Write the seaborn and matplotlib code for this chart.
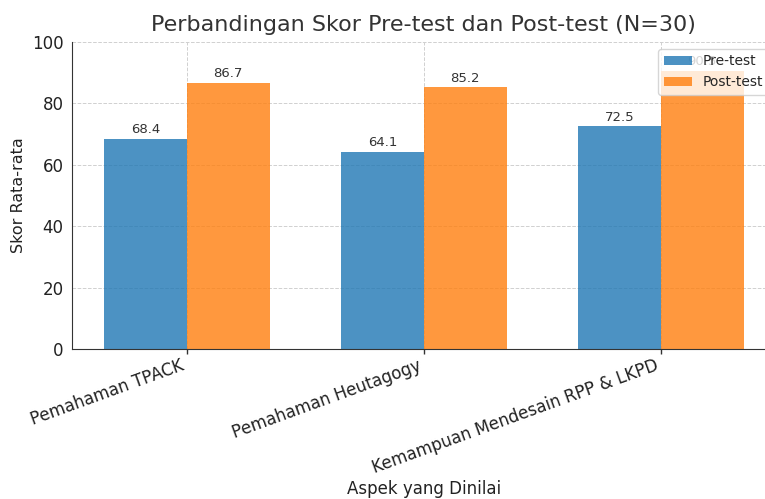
import matplotlib
matplotlib.use("Agg")
import matplotlib.pyplot as plt
import seaborn as sns
import pandas as pd

categories = ["Pemahaman TPACK", "Pemahaman Heutagogy", "Kemampuan Mendesain RPP & LKPD"]
pre_test = [68.4, 64.1, 72.5]
post_test = [86.7, 85.2, 90.5]
series_names = ["Pre-test", "Post-test"]

df = pd.DataFrame({
    "Aspek": categories * 2,
    "Skor": pre_test + post_test,
    "Tes": [series_names[0]] * 3 + [series_names[1]] * 3,
})

sns.set_style("whitegrid", {
    "grid.linestyle": "--",
    "grid.color": "#d0d0d0",
    "axes.edgecolor": "#333333",
})
plt.rcParams["font.family"] = ["DejaVu Sans"]

fig = plt.figure(figsize=(7.65, 4.99), dpi=100)
ax = fig.add_axes([0.094, 0.3006, 0.920, 0.6154])

sns.barplot(data=df, x="Aspek", y="Skor", hue="Tes", hue_order=series_names,
            palette=["#1f77b4", "#ff7f0e"], alpha=0.8, width=0.7,
            saturation=1, ax=ax, errorbar=None, linewidth=0, edgecolor="none")

for c in ax.containers:
    ax.bar_label(c, fmt="%.1f", padding=2, fontsize=9.5, color="#333333")

ax.set_xlim(-0.485, 2.485)
ax.set_ylim(0, 100)
ax.set_yticks([0, 20, 40, 60, 80, 100])
ax.grid(True, linestyle="--", color="#d0d0d0", linewidth=0.7)
ax.set_axisbelow(True)
for s in ["top", "right"]:
    ax.spines[s].set_visible(False)
ax.spines["left"].set_color("#333333")
ax.spines["bottom"].set_color("#333333")

ax.set_title("Perbandingan Skor Pre-test dan Post-test (N=30)", fontsize=16, color="#333333", pad=8)
ax.set_xlabel("Aspek yang Dinilai", fontsize=12, color="#222222", labelpad=2)
ax.set_ylabel("Skor Rata-rata", fontsize=11.5, color="#222222")
ax.tick_params(axis="y", labelsize=12, colors="#222222", length=0, pad=6)
ax.tick_params(axis="x", labelsize=12, colors="#222222", length=3.5, width=1,
               color="#333333", direction="out", bottom=True, pad=2)
plt.setp(ax.get_xticklabels(), rotation=20, ha="right", rotation_mode="default")

leg = ax.legend(loc="upper right", fontsize=10, frameon=True, title=None,
                handlelength=2.0, handleheight=0.65)

fig.savefig("out.png", dpi=100)
